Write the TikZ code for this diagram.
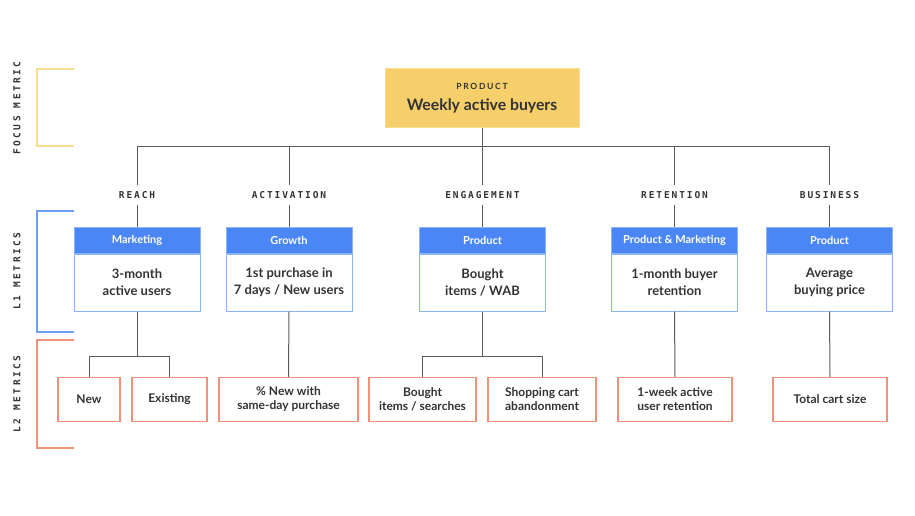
\documentclass[tikz,border=0pt]{standalone}
\usepackage{fontspec}
\setmainfont{Lato}
\newfontfamily\monofont[LetterSpace=20]{DejaVu Sans Mono}
\newfontfamily\sidefont[LetterSpace=26]{DejaVu Sans Mono}
\newfontfamily\capfont[LetterSpace=20]{Lato}
\usepackage{tikz}
\usetikzlibrary{positioning}
\definecolor{ink}{HTML}{333333}
\definecolor{wire}{HTML}{5A5A5A}
\definecolor{gold}{HTML}{F6CF6A}
\definecolor{goldline}{HTML}{F9DE92}
\definecolor{hdrblue}{HTML}{4A86F5}
\definecolor{boxblue}{HTML}{8DB4F8}
\definecolor{brblue}{HTML}{6FA0F7}
\definecolor{salmon}{HTML}{F2907A}
\tikzset{
    mytop/.style = {rectangle, draw=goldline, line width=1pt, fill=gold, align=center, minimum width=194pt, minimum height=59pt, text=ink, inner sep=0pt},
    myhead/.style = {rectangle, draw=boxblue, line width=1pt, fill=hdrblue, align=center, minimum width=126pt, minimum height=26pt, text=white, font=\bfseries\fontsize{11}{12}\selectfont, inner sep=0pt},
    mybody/.style = {rectangle, draw=boxblue, line width=1pt, fill=white, align=center, minimum width=126pt, minimum height=57pt, text=ink, font=\bfseries\fontsize{13}{17}\selectfont, inner sep=0pt},
    mylow/.style = {rectangle, draw=salmon, line width=1.4pt, fill=white, align=center, minimum height=44pt, text=ink, font=\bfseries\fontsize{12}{14}\selectfont, inner sep=0pt},
    mylabel/.style = {align=center, minimum height=19pt, inner sep=0pt, text=ink, font=\monofont\bfseries\fontsize{9.5}{10}\selectfont},
    myside/.style = {rotate=90, inner sep=0pt, text=ink, font=\sidefont\bfseries\fontsize{9.5}{10}\selectfont},
    edgen/.style = {-, line width=1pt, wire},
    bracketg/.style = {-, line width=1.4pt, goldline!90!gold},
    bracketb/.style = {-, line width=1.4pt, brblue},
    bracketr/.style = {-, line width=1.4pt, salmon}
}
\begin{document}
\begin{tikzpicture}[x=1pt, y=-1pt]
  \useasboundingbox (0,0) rectangle (915,516);
  % side brackets
  \draw[bracketg] (74,69) -- (37,69) -- (37,146) -- (74,146);
  \draw[bracketb] (74,211) -- (37,211) -- (37,332) -- (74,332);
  \draw[bracketr] (74,340) -- (37,340) -- (37,448) -- (74,448);
  \node[myside] (sfocus) at (17,108) {FOCUS METRIC};
  \node[myside] (sl1) at (17,271) {L1 METRICS};
  \node[myside] (sl2) at (17,394) {L2 METRICS};
  % focus metric
  \node[mytop] (top) at (482,98.5) {{\capfont\bfseries\fontsize{8.5}{10}\selectfont PRODUCT}\\[9pt]
    {\bfseries\fontsize{15.8}{18}\selectfont Weekly active buyers}};
  % L1 labels
  \node[mylabel] (lreach) at (137,195) {REACH};
  \node[mylabel] (lact) at (289,195) {ACTIVATION};
  \node[mylabel] (leng) at (482.5,195) {ENGAGEMENT};
  \node[mylabel] (lret) at (674.5,195) {RETENTION};
  \node[mylabel] (lbus) at (829.5,195) {BUSINESS};
  % L1 boxes
  \node[myhead] (hreach) at (137,240) {Marketing};
  \node[mybody, below=0pt of hreach] (breach) {3-month\\active users};
  \node[myhead] (hact) at (289,240) {Growth};
  \node[mybody, below=0pt of hact] (bact) {1st purchase in\\7 days / New users};
  \node[myhead] (heng) at (482.5,240) {Product};
  \node[mybody, below=0pt of heng] (beng) {Bought\\items / WAB};
  \node[myhead] (hret) at (674.5,240) {Product \& Marketing};
  \node[mybody, below=0pt of hret] (bret) {1-month buyer\\retention};
  \node[myhead] (hbus) at (829.5,240) {Product};
  \node[mybody, below=0pt of hbus] (bbus) {Average\\buying price};
  % L2 boxes
  \node[mylow, minimum width=62pt] (new) at (89,399.5) {New};
  \node[mylow, minimum width=75pt] (exist) at (169.5,399.5) {Existing};
  \node[mylow, minimum width=139pt] (pnew) at (288.5,399.5) {\% New with\\same-day purchase};
  \node[mylow, minimum width=107pt] (bought) at (422.5,399.5) {Bought\\items / searches};
  \node[mylow, minimum width=108pt] (cart) at (542,399.5) {Shopping cart\\abandonment};
  \node[mylow, minimum width=114pt] (week) at (675,399.5) {1-week active\\user retention};
  \node[mylow, minimum width=114pt] (total) at (830,399.5) {Total cart size};
  % connectors
  \draw[edgen] (top.south) -- ++(0,18) coordinate (hub);
  \foreach \n in {reach,act,eng,ret,bus}{
    \draw[edgen] (hub) -| (l\n.north);
    \draw[edgen] (l\n.south) -- (h\n.north);
  }
  \draw[edgen] (breach.south) -- ++(0,45) coordinate (sreach);
  \draw[edgen] (sreach) -| (new.north);
  \draw[edgen] (sreach) -| (exist.north);
  \draw[edgen] (bact.south) -- (pnew.north);
  \draw[edgen] (beng.south) -- ++(0,45) coordinate (seng);
  \draw[edgen] (seng) -| (bought.north);
  \draw[edgen] (seng) -| (cart.north);
  \draw[edgen] (bret.south) -- (week.north);
  \draw[edgen] (bbus.south) -- (total.north);
\end{tikzpicture}
\end{document}
